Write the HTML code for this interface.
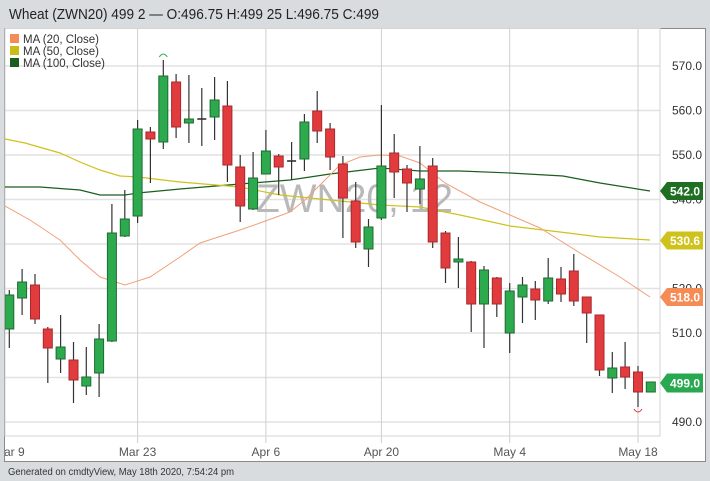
<!DOCTYPE html>
<html><head><meta charset="utf-8"><style>
html,body{margin:0;padding:0;background:#d9dcdf;}
svg{display:block;font-family:"Liberation Sans",sans-serif;}
</style></head><body>
<svg width="710" height="481" viewBox="0 0 710 481" xmlns="http://www.w3.org/2000/svg">
<defs><clipPath id="pc"><rect x="5" y="28" width="655" height="408"/></clipPath>
<clipPath id="cc"><rect x="5" y="28" width="700" height="434"/></clipPath></defs>
<rect x="0" y="0" width="710" height="481" fill="#d9dcdf"/>
<text x="9" y="19" font-size="15" fill="#222" textLength="370" lengthAdjust="spacingAndGlyphs">Wheat (ZWN20) 499 2 — O:496.75 H:499 25 L:496.75 C:499</text>
<rect x="4.5" y="28.5" width="701" height="433" fill="#fff" stroke="#8a8a8a" stroke-width="1"/>
<g stroke="#e2e2e2" stroke-width="1.6">
<line x1="5" x2="660" y1="66" y2="66"/><line x1="5" x2="660" y1="110.5" y2="110.5"/><line x1="5" x2="660" y1="155" y2="155"/><line x1="5" x2="660" y1="199.5" y2="199.5"/><line x1="5" x2="660" y1="244" y2="244"/><line x1="5" x2="660" y1="288.5" y2="288.5"/><line x1="5" x2="660" y1="333" y2="333"/><line x1="5" x2="660" y1="377.5" y2="377.5"/><line x1="5" x2="660" y1="422" y2="422"/>
</g>
<g stroke="#cfcfcf" stroke-width="1">
<line x1="137.6" x2="137.6" y1="28" y2="443"/><line x1="265.9" x2="265.9" y1="28" y2="443"/><line x1="381.4" x2="381.4" y1="28" y2="443"/><line x1="509.7" x2="509.7" y1="28" y2="443"/><line x1="638" x2="638" y1="28" y2="443"/>
</g>
<rect x="5" y="28.5" width="655" height="407.5" fill="none" stroke="#d4d4d4" stroke-width="1"/>
<g clip-path="url(#pc)">
<text x="256" y="212" font-size="40" fill="#b9b9b9" textLength="197" lengthAdjust="spacingAndGlyphs">ZWN20, 12</text>
<polyline fill="none" stroke="#1b5e20" stroke-width="1.2" points="5,187 40,187 80,190 100,195 125,195 138,193 180,189 240,184 290,180 330,174 380,168 420,171 460,171 510,173 563,176 600,183 650,191"/>
<polyline fill="none" stroke="#cfc21c" stroke-width="1.2" points="5,139 25,143 60,153 80,162 100,170 120,176 138,177 180,182 240,187 280,195 330,200 380,205 420,207 460,215 510,226 560,232 600,237 650,240"/>
<polyline fill="none" stroke="#f0a07a" stroke-width="1" points="5,206 30,220 60,240 80,260 100,277 125,285 150,277 180,257 200,243 240,230 260,223 290,212 305,200 320,185 340,165 360,157 380,155 400,156 420,163 445,183 480,202 510,215 540,228 580,253 620,277 650,297"/>
<g stroke="#333" stroke-width="1.2">
<line x1="9.3" x2="9.3" y1="290" y2="348"/><line x1="22.1" x2="22.1" y1="269" y2="315"/><line x1="35" x2="35" y1="274" y2="324"/><line x1="47.8" x2="47.8" y1="327" y2="383"/><line x1="60.6" x2="60.6" y1="315" y2="373"/><line x1="73.5" x2="73.5" y1="342" y2="403"/><line x1="86.3" x2="86.3" y1="347" y2="395"/><line x1="99.1" x2="99.1" y1="324" y2="397"/><line x1="111.9" x2="111.9" y1="204" y2="342"/><line x1="124.8" x2="124.8" y1="190" y2="237"/><line x1="137.6" x2="137.6" y1="120" y2="223"/><line x1="150.4" x2="150.4" y1="127" y2="183"/><line x1="163.3" x2="163.3" y1="60" y2="149"/><line x1="176.1" x2="176.1" y1="74" y2="138"/><line x1="188.9" x2="188.9" y1="75" y2="143"/><line x1="201.8" x2="201.8" y1="88" y2="146"/><line x1="214.6" x2="214.6" y1="77" y2="140"/><line x1="227.4" x2="227.4" y1="81" y2="182"/><line x1="240.2" x2="240.2" y1="155" y2="222"/><line x1="253.1" x2="253.1" y1="152" y2="210"/><line x1="265.9" x2="265.9" y1="130" y2="174"/><line x1="278.7" x2="278.7" y1="154" y2="195"/><line x1="291.6" x2="291.6" y1="142" y2="180"/><line x1="304.4" x2="304.4" y1="114" y2="171"/><line x1="317.2" x2="317.2" y1="91" y2="143"/><line x1="330.1" x2="330.1" y1="123" y2="170"/><line x1="342.9" x2="342.9" y1="156" y2="238"/><line x1="355.7" x2="355.7" y1="182" y2="248"/><line x1="368.5" x2="368.5" y1="219" y2="267"/><line x1="381.4" x2="381.4" y1="105" y2="220"/><line x1="394.2" x2="394.2" y1="134" y2="198"/><line x1="407" x2="407" y1="165" y2="212"/><line x1="419.9" x2="419.9" y1="146" y2="204"/><line x1="432.7" x2="432.7" y1="158" y2="248"/><line x1="445.5" x2="445.5" y1="231" y2="283"/><line x1="458.4" x2="458.4" y1="237" y2="288"/><line x1="471.2" x2="471.2" y1="261" y2="332"/><line x1="484" x2="484" y1="266" y2="348"/><line x1="496.8" x2="496.8" y1="277" y2="317"/><line x1="509.7" x2="509.7" y1="283" y2="353"/><line x1="522.5" x2="522.5" y1="277" y2="323"/><line x1="535.3" x2="535.3" y1="281" y2="320"/><line x1="548.2" x2="548.2" y1="258" y2="304"/><line x1="561" x2="561" y1="267" y2="302"/><line x1="573.8" x2="573.8" y1="254" y2="306"/><line x1="586.7" x2="586.7" y1="297" y2="343"/><line x1="599.5" x2="599.5" y1="315" y2="376"/><line x1="612.3" x2="612.3" y1="352" y2="393"/><line x1="625.1" x2="625.1" y1="342" y2="389"/><line x1="638" x2="638" y1="366" y2="407"/>
</g>
<g fill="#2eaa4e" stroke="#1f6a32" stroke-width="1">
<rect x="4.8" y="295" width="9" height="34"/><rect x="17.6" y="282" width="9" height="16"/><rect x="56.1" y="347" width="9" height="12"/><rect x="81.8" y="377" width="9" height="9"/><rect x="94.6" y="339" width="9" height="34"/><rect x="107.4" y="233" width="9" height="108"/><rect x="120.3" y="219" width="9" height="17"/><rect x="133.1" y="129" width="9" height="87"/><rect x="158.8" y="76" width="9" height="66"/><rect x="184.4" y="119" width="9" height="4"/><rect x="210.1" y="100" width="9" height="17"/><rect x="248.6" y="178" width="9" height="31"/><rect x="261.4" y="151" width="9" height="23"/><rect x="299.9" y="122" width="9" height="37"/><rect x="364" y="227" width="9" height="22"/><rect x="376.9" y="166" width="9" height="52"/><rect x="415.4" y="179" width="9" height="10"/><rect x="453.9" y="259" width="9" height="3"/><rect x="479.5" y="270" width="9" height="34"/><rect x="505.2" y="291" width="9" height="42"/><rect x="518" y="285" width="9" height="12"/><rect x="543.7" y="278" width="9" height="23"/><rect x="607.8" y="368" width="9" height="10"/><rect x="646.3" y="382" width="9" height="10"/>
</g>
<g fill="#e23b3e" stroke="#a8282c" stroke-width="1">
<rect x="30.5" y="285" width="9" height="34"/><rect x="43.3" y="329" width="9" height="19"/><rect x="69" y="360" width="9" height="20"/><rect x="145.9" y="132" width="9" height="7"/><rect x="171.6" y="82" width="9" height="45"/><rect x="222.9" y="106" width="9" height="59"/><rect x="235.7" y="167" width="9" height="39"/><rect x="274.2" y="156" width="9" height="11"/><rect x="312.7" y="111" width="9" height="20"/><rect x="325.6" y="129" width="9" height="28"/><rect x="338.4" y="164" width="9" height="34"/><rect x="351.2" y="201" width="9" height="41"/><rect x="389.7" y="153" width="9" height="19"/><rect x="402.5" y="169" width="9" height="14"/><rect x="428.2" y="166" width="9" height="76"/><rect x="441" y="233" width="9" height="35"/><rect x="466.7" y="262" width="9" height="42"/><rect x="492.3" y="278" width="9" height="26"/><rect x="530.8" y="289" width="9" height="11"/><rect x="556.5" y="279" width="9" height="15"/><rect x="569.3" y="271" width="9" height="30"/><rect x="582.2" y="297" width="9" height="16"/><rect x="595" y="315" width="9" height="55"/><rect x="620.6" y="367" width="9" height="10"/><rect x="633.5" y="372" width="9" height="20"/>
</g>
<g stroke="#333" stroke-width="1.6"><line x1="197.3" x2="206.3" y1="119" y2="119"/><line x1="287.1" x2="296.1" y1="161" y2="161"/></g>
<path d="M159.3,57 Q163.3,51 167.3,57" fill="none" stroke="#2eaa4e" stroke-width="1"/>
<path d="M634,409 Q638,415 642,409" fill="none" stroke="#e23b3e" stroke-width="1"/>
</g>
<g font-size="12" fill="#333">
<text x="672" y="70">570.0</text><text x="672" y="114.5">560.0</text><text x="672" y="159">550.0</text><text x="672" y="203.5">540.0</text><text x="672" y="292.5">520.0</text><text x="672" y="337">510.0</text><text x="672" y="426">490.0</text>
</g>
<g font-size="12" font-weight="bold" fill="#fff">
<path d="M660,191 L667,182 L703,182 L703,200 L667,200 Z" fill="#1f6f22"/><text x="670" y="195.5">542.0</text>
<path d="M660,240.5 L667,231.5 L703,231.5 L703,249.5 L667,249.5 Z" fill="#cfc21c"/><text x="670" y="245">530.6</text>
<path d="M660,297 L667,288 L703,288 L703,306 L667,306 Z" fill="#f58b55"/><text x="670" y="301.5">518.0</text>
<path d="M660,383 L667,373.5 L703,373.5 L703,392.5 L667,392.5 Z" fill="#28a850"/><text x="670" y="387.5">499.0</text>
</g>
<g clip-path="url(#cc)" font-size="12" fill="#555" text-anchor="middle">
<text x="9.3" y="456">Mar 9</text><text x="137.6" y="456">Mar 23</text><text x="265.9" y="456">Apr 6</text><text x="381.4" y="456">Apr 20</text><text x="509.7" y="456">May 4</text><text x="638" y="456">May 18</text>
</g>
<rect x="10" y="34" width="9" height="9" fill="#f58b55"/>
<rect x="10" y="46" width="9" height="9" fill="#c8bd14"/>
<rect x="10" y="58" width="9" height="9" fill="#1b5e20"/>
<g font-size="11.5" fill="#333">
<text x="23" y="43" textLength="76" lengthAdjust="spacingAndGlyphs">MA (20, Close)</text>
<text x="23" y="55" textLength="76" lengthAdjust="spacingAndGlyphs">MA (50, Close)</text>
<text x="23" y="67" textLength="82" lengthAdjust="spacingAndGlyphs">MA (100, Close)</text>
</g>
<text x="8" y="475" font-size="10" fill="#333" textLength="226" lengthAdjust="spacingAndGlyphs">Generated on cmdtyView, May 18th 2020, 7:54:24 pm</text>
</svg>
</body></html>
